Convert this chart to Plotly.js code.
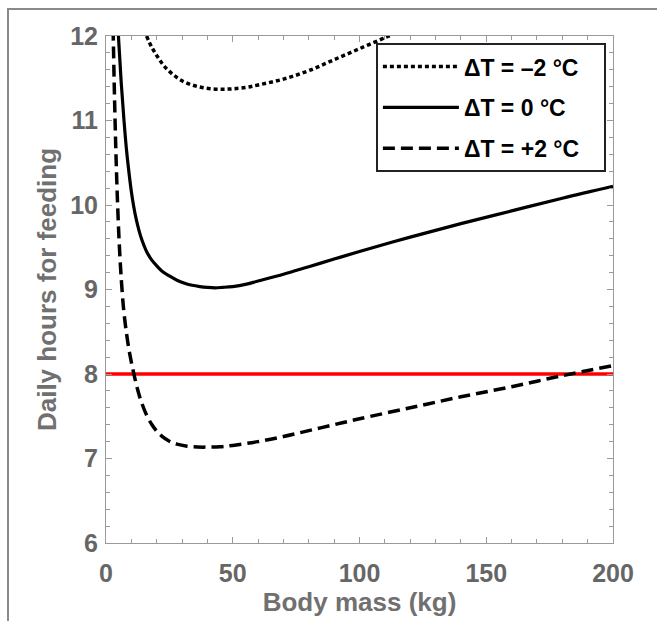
<!DOCTYPE html>
<html>
<head>
<meta charset="utf-8">
<script src="https://cdn.plot.ly/plotly-3.0.1.min.js"></script>
<style>
  html, body { margin: 0; padding: 0; background: #ffffff; }
  #wrap { position: relative; width: 657px; height: 621px; }
  #chart { width: 657px; height: 621px; }
  #frame { position: absolute; left: 7px; top: 8px; right: 0; bottom: 0;
           border-left: 2px solid #8a8a8a; border-top: 2px solid #8a8a8a;
           pointer-events: none; }
</style>
</head>
<body>
<div id="wrap">
  <div id="chart"></div>
  <div id="frame"></div>
</div>
<script>
// ΔT = -2 °C (dotted)
const massMinus2 = [16, 18, 20, 22, 24, 27, 30, 34, 38, 42, 46, 50, 55, 60, 70, 80, 90, 100, 110, 113];
const hoursMinus2 = [12.0, 11.87, 11.77, 11.68, 11.61, 11.53, 11.47, 11.42, 11.39, 11.375, 11.37, 11.375, 11.39, 11.42, 11.49, 11.59, 11.72, 11.85, 11.98, 12.02];

// ΔT = 0 °C (solid)
const massZero = [4.9, 6, 7.1, 8, 9, 10, 11, 12, 13, 14, 15, 16, 18, 20, 22, 25, 28, 31, 34, 37, 40, 43, 46, 50, 55, 60, 70, 80, 90, 100, 120, 140, 160, 180, 200];
const hoursZero = [12.0, 11.45, 11.0, 10.68, 10.4, 10.16, 9.97, 9.82, 9.7, 9.6, 9.52, 9.45, 9.35, 9.28, 9.22, 9.16, 9.11, 9.075, 9.05, 9.035, 9.025, 9.02, 9.025, 9.035, 9.06, 9.1, 9.18, 9.27, 9.36, 9.45, 9.62, 9.78, 9.93, 10.08, 10.22];

// ΔT = +2 °C (dashed)
const massPlus2 = [2.8, 3.2, 3.6, 4.0, 4.5, 5.0, 5.6, 6.2, 7, 8, 9, 10, 11, 12, 13, 14, 16, 18, 20, 22, 25, 28, 32, 36, 40, 45, 50, 60, 70, 80, 90, 100, 120, 140, 160, 180, 200];
const hoursPlus2 = [12.09, 11.49, 10.97, 10.53, 10.07, 9.69, 9.33, 9.05, 8.75, 8.5, 8.3, 8.14, 8.0, 7.87, 7.76, 7.665, 7.515, 7.405, 7.325, 7.265, 7.205, 7.17, 7.146, 7.136, 7.135, 7.14, 7.155, 7.2, 7.26, 7.33, 7.4, 7.47, 7.6, 7.73, 7.85, 7.98, 8.1];

// 8-hour threshold
const thresholdMass = [0, 200];
const thresholdHours = [8, 8];

const legendNames = ['ΔT = –2 °C', 'ΔT = 0 °C', 'ΔT = +2 °C'];
const xTickVals = [0, 50, 100, 150, 200];
const yTickVals = [6, 7, 8, 9, 10, 11, 12];

const fontFam = '"Liberation Sans", Arial, sans-serif';
const pad = '\u00a0\u00a0\u00a0';

const traces = [
  { x: thresholdMass, y: thresholdHours, mode: 'lines', showlegend: false,
    line: { color: '#ff0000', width: 3.5 }, hoverinfo: 'skip' },
  { x: massMinus2, y: hoursMinus2, mode: 'lines', name: legendNames[0] + pad, legendgroup: 'a',
    line: { color: '#000000', width: 3.5, dash: '4px,3px', shape: 'spline' } },
  { x: massZero, y: hoursZero, mode: 'lines', name: legendNames[1] + pad, legendgroup: 'b',
    line: { color: '#000000', width: 3.2, shape: 'spline' } },
  { x: massPlus2, y: hoursPlus2, mode: 'lines', name: legendNames[2] + pad, legendgroup: 'c',
    line: { color: '#000000', width: 3.5, dash: '12px,6px', shape: 'spline' } }
];

const axisCommon = {
  showgrid: false, zeroline: false, showline: true, linecolor: '#9a9a9a', linewidth: 1,
  mirror: 'ticks', ticks: 'inside', ticklen: 6, tickcolor: '#9a9a9a', tickwidth: 1,
  tickfont: { family: fontFam, size: 25, color: '#666666', weight: 'bold' }
};

const layout = {
  width: 657, height: 621,
  margin: { l: 106, r: 44, t: 36, b: 78 },
  paper_bgcolor: '#ffffff', plot_bgcolor: '#ffffff',
  showlegend: true,
  xaxis: Object.assign({}, axisCommon, {
    range: [0, 200], tickvals: xTickVals, ticktext: xTickVals.map(String),
    minor: { dtick: 10, ticks: 'inside', ticklen: 4, tickcolor: '#9a9a9a' },
    ticklabelstandoff: 8,
    title: { text: 'Body mass (kg)', standoff: 0,
             font: { family: fontFam, size: 26, color: '#707070', weight: 'bold' } }
  }),
  yaxis: Object.assign({}, axisCommon, {
    range: [6, 12], tickvals: yTickVals, ticktext: yTickVals.map(String),
    minor: { dtick: 0.2, ticks: 'inside', ticklen: 4, tickcolor: '#9a9a9a' },
    ticklabelstandoff: 2,
    title: { text: 'Daily hours for feeding', standoff: 6,
             font: { family: fontFam, size: 26, color: '#707070', weight: 'bold' } }
  }),
  legend: {
    x: 0.986, xanchor: 'right', y: 0.986, yanchor: 'top',
    bgcolor: '#ffffff', bordercolor: '#222222', borderwidth: 2,
    font: { family: fontFam, size: 23, color: '#000000', weight: 'bold' },
    traceorder: 'grouped', tracegroupgap: 8, itemwidth: 76
  }
};

Plotly.newPlot('chart', traces, layout, { staticPlot: true, displayModeBar: false });
</script>
</body>
</html>
